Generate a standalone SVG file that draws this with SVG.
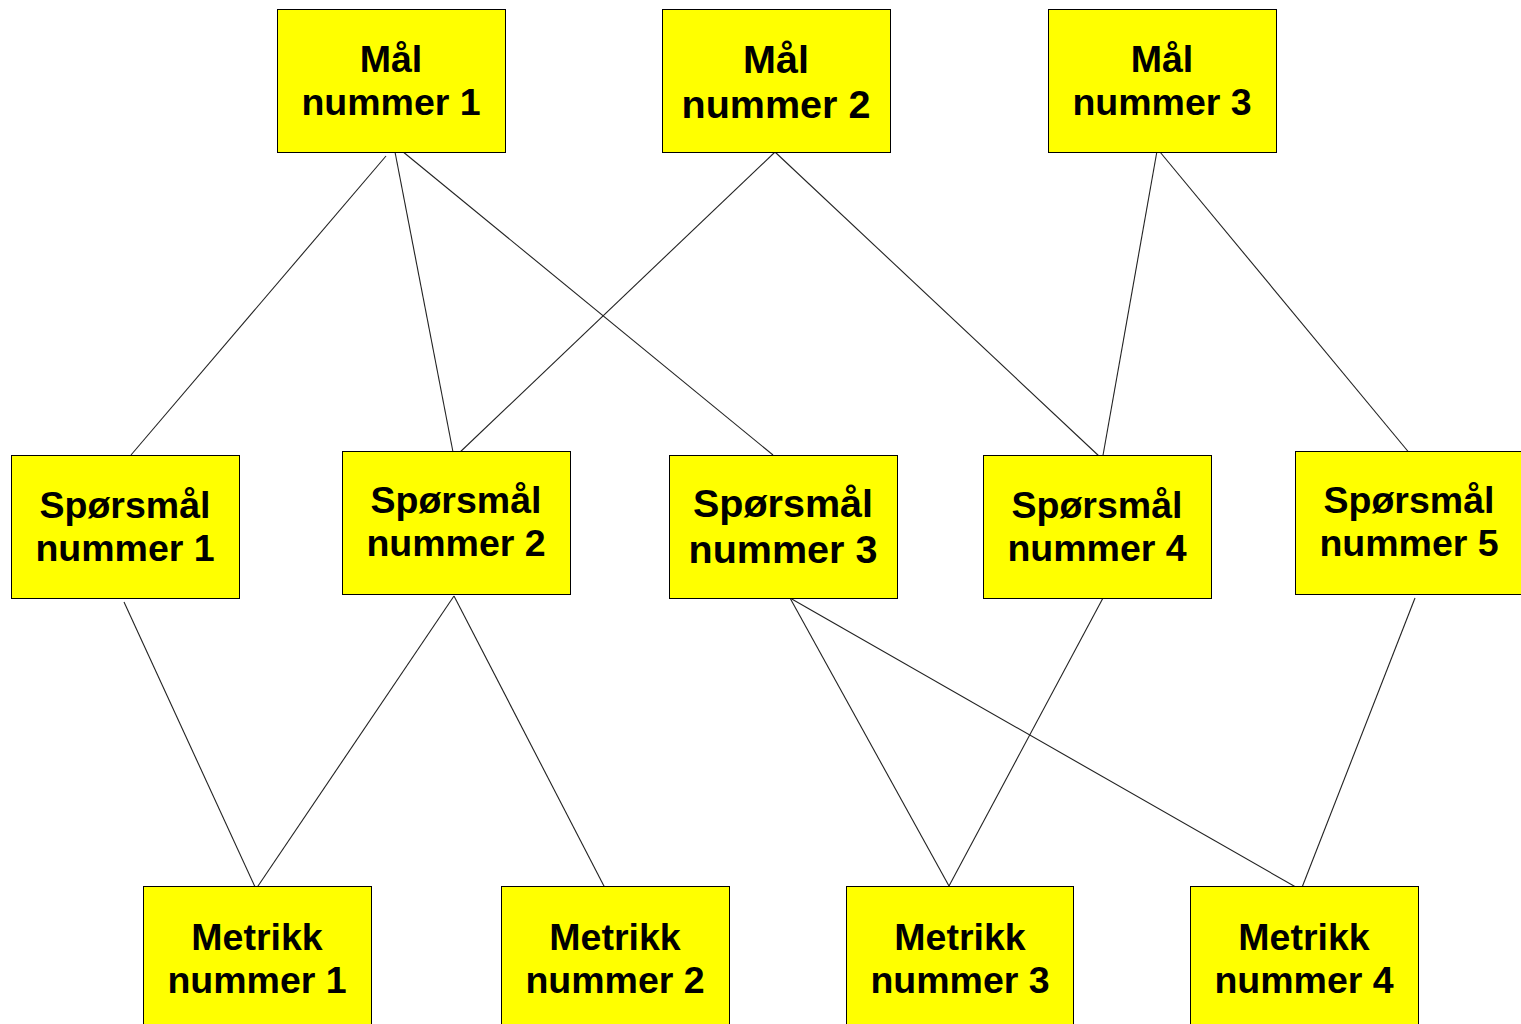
<svg xmlns="http://www.w3.org/2000/svg" width="1521" height="1024" viewBox="0 0 1521 1024">
  <style>
    .box { fill: #ffff00; stroke: #000; stroke-width: 1; }
    .lbl { font-family: "Liberation Sans", Arial, sans-serif; font-weight: bold; font-size: 37.5px; fill: #000; text-anchor: middle; }
    .big { font-size: 39.5px; }
    .edge { stroke: #222; stroke-width: 1.1; fill: none; }
  </style>
  <rect width="1521" height="1024" fill="#fff"/>

  <!-- connectors -->
  <g id="connectors" class="edge">
    <line x1="386" y1="156" x2="131" y2="455"/>
    <line x1="395" y1="152" x2="453" y2="452"/>
    <line x1="402" y1="151" x2="773" y2="455"/>
    <line x1="775" y1="152" x2="457" y2="455"/>
    <line x1="775" y1="152" x2="1100" y2="457"/>
    <line x1="1157" y1="151" x2="1102" y2="461"/>
    <line x1="1160" y1="152" x2="1411" y2="455"/>
    <line x1="124" y1="602" x2="256" y2="889"/>
    <line x1="454" y1="596" x2="256" y2="889"/>
    <line x1="454" y1="596" x2="606" y2="890"/>
    <line x1="790" y1="598" x2="949" y2="886"/>
    <line x1="790" y1="598" x2="1301" y2="890"/>
    <line x1="1103" y1="598" x2="949" y2="886"/>
    <line x1="1415" y1="598" x2="1301" y2="890"/>
  </g>

  <!-- goals -->
  <g id="maal1">
    <rect class="box" x="277.5" y="9.5" width="228" height="143"/>
    <text class="lbl" x="391" y="72">Mål</text>
    <text class="lbl" x="391" y="115">nummer 1</text>
  </g>
  <g id="maal2">
    <rect class="box" x="662.5" y="9.5" width="228" height="143"/>
    <text class="lbl big" x="776" y="73">Mål</text>
    <text class="lbl big" x="776" y="118">nummer 2</text>
  </g>
  <g id="maal3">
    <rect class="box" x="1048.5" y="9.5" width="228" height="143"/>
    <text class="lbl" x="1162" y="72">Mål</text>
    <text class="lbl" x="1162" y="115">nummer 3</text>
  </g>

  <!-- questions -->
  <g id="sporsmal1">
    <rect class="box" x="11.5" y="455.5" width="228" height="143"/>
    <text class="lbl" x="125" y="518">Spørsmål</text>
    <text class="lbl" x="125" y="561">nummer 1</text>
  </g>
  <g id="sporsmal2">
    <rect class="box" x="342.5" y="451.5" width="228" height="143"/>
    <text class="lbl" x="456" y="513">Spørsmål</text>
    <text class="lbl" x="456" y="556">nummer 2</text>
  </g>
  <g id="sporsmal3">
    <rect class="box" x="669.5" y="455.5" width="228" height="143"/>
    <text class="lbl big" x="783" y="517">Spørsmål</text>
    <text class="lbl big" x="783" y="563">nummer 3</text>
  </g>
  <g id="sporsmal4">
    <rect class="box" x="983.5" y="455.5" width="228" height="143"/>
    <text class="lbl" x="1097" y="518">Spørsmål</text>
    <text class="lbl" x="1097" y="561">nummer 4</text>
  </g>
  <g id="sporsmal5">
    <rect class="box" x="1295.5" y="451.5" width="228" height="143"/>
    <text class="lbl" x="1409" y="513">Spørsmål</text>
    <text class="lbl" x="1409" y="556">nummer 5</text>
  </g>

  <!-- metrics -->
  <g id="metrikk1">
    <rect class="box" x="143.5" y="886.5" width="228" height="143"/>
    <text class="lbl" x="257" y="950">Metrikk</text>
    <text class="lbl" x="257" y="993">nummer 1</text>
  </g>
  <g id="metrikk2">
    <rect class="box" x="501.5" y="886.5" width="228" height="143"/>
    <text class="lbl" x="615" y="950">Metrikk</text>
    <text class="lbl" x="615" y="993">nummer 2</text>
  </g>
  <g id="metrikk3">
    <rect class="box" x="846.5" y="886.5" width="227" height="143"/>
    <text class="lbl" x="960" y="950">Metrikk</text>
    <text class="lbl" x="960" y="993">nummer 3</text>
  </g>
  <g id="metrikk4">
    <rect class="box" x="1190.5" y="886.5" width="228" height="143"/>
    <text class="lbl" x="1304" y="950">Metrikk</text>
    <text class="lbl" x="1304" y="993">nummer 4</text>
  </g>
</svg>
